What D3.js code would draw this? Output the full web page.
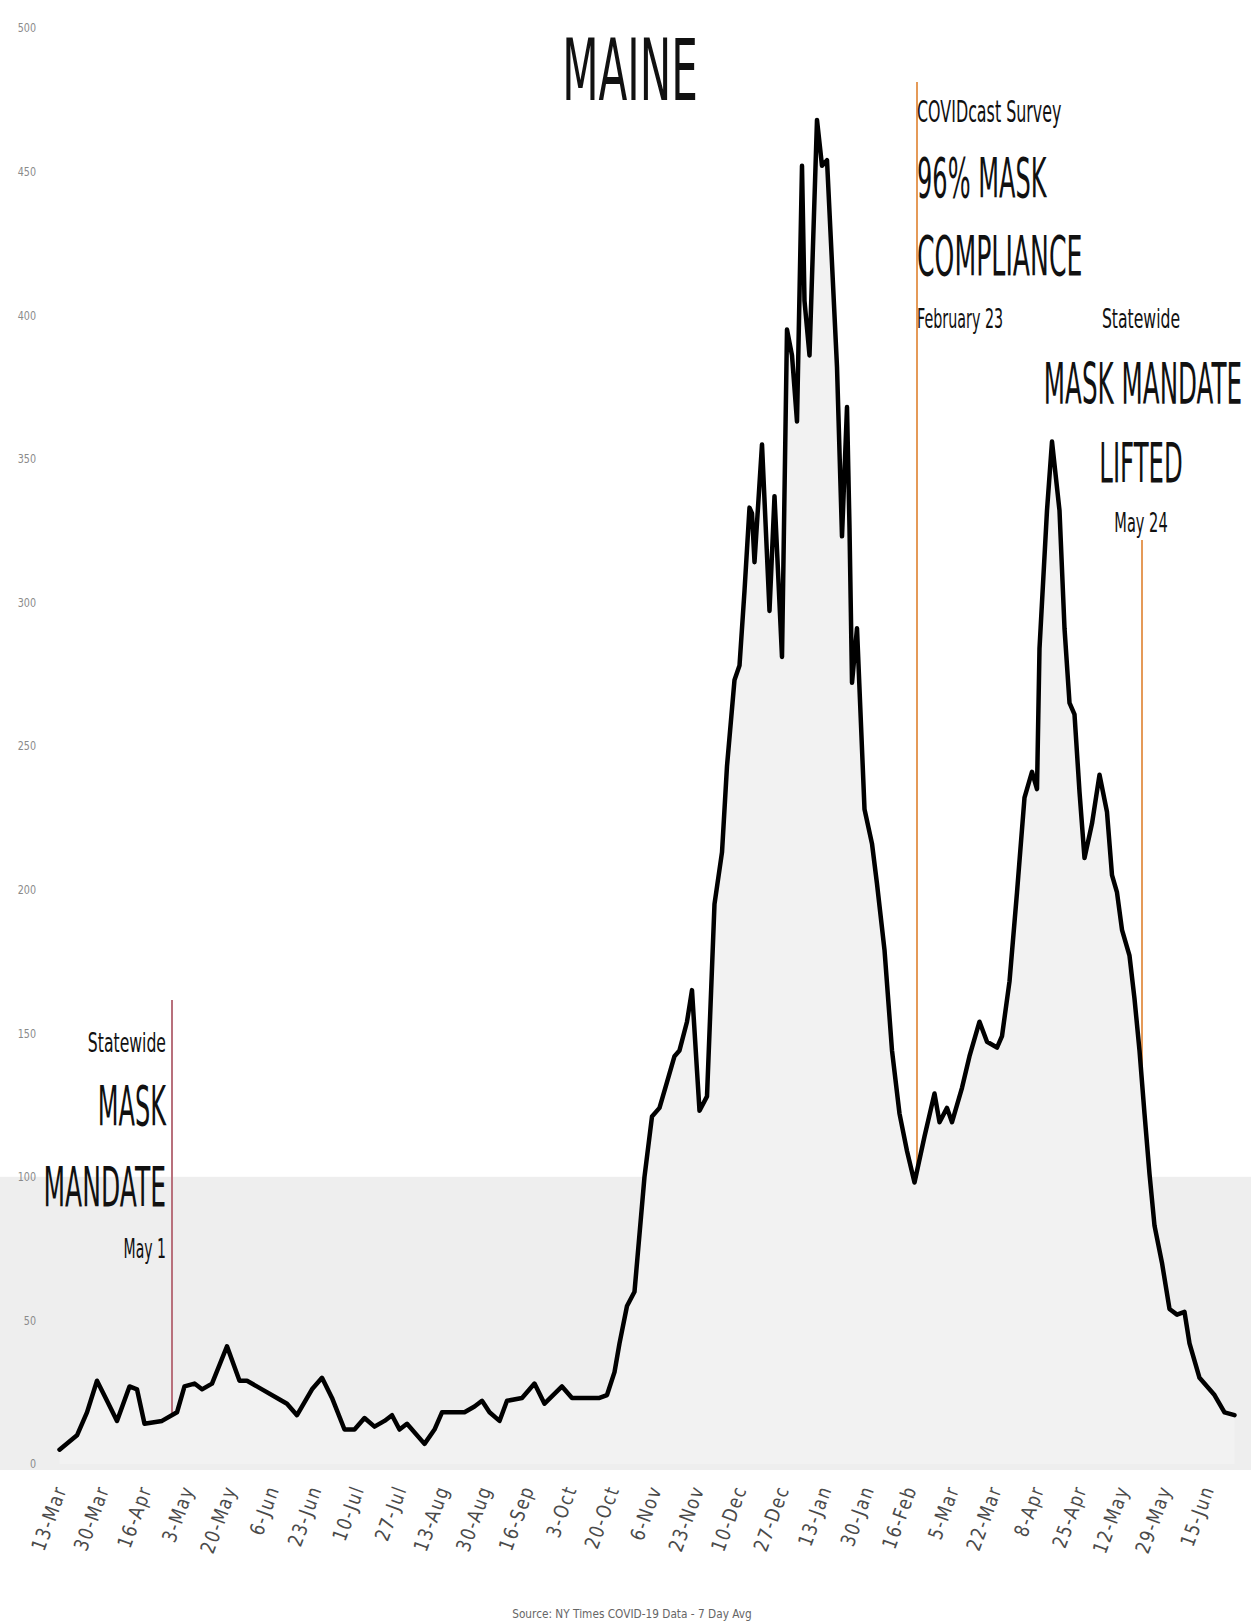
<!DOCTYPE html>
<html>
<head>
<meta charset="utf-8">
<script src="https://cdn.jsdelivr.net/npm/d3@7"></script>
<style>
  html, body { margin: 0; padding: 0; background: #ffffff; }
  svg { display: block; }
  text { font-family: "DejaVu Sans", "Open Sans", sans-serif; }
</style>
</head>
<body>
<script>
// ---- data ----
const dates = ["2020-03-17","2020-03-24","2020-03-28","2020-04-01","2020-04-05","2020-04-09","2020-04-14","2020-04-17","2020-04-20","2020-04-27",
"2020-05-03","2020-05-06","2020-05-10","2020-05-13","2020-05-17","2020-05-23","2020-05-28","2020-05-31","2020-06-06","2020-06-12",
"2020-06-16","2020-06-20","2020-06-26","2020-06-30","2020-07-04","2020-07-09","2020-07-13","2020-07-17","2020-07-21","2020-07-25",
"2020-07-28","2020-07-31","2020-08-03","2020-08-10","2020-08-14","2020-08-17","2020-08-22","2020-08-26","2020-08-30","2020-09-02",
"2020-09-05","2020-09-09","2020-09-12","2020-09-18","2020-09-23","2020-09-27","2020-10-04","2020-10-08","2020-10-14","2020-10-19",
"2020-10-22","2020-10-25","2020-10-27","2020-10-30","2020-11-02","2020-11-06","2020-11-09","2020-11-12","2020-11-15","2020-11-18",
"2020-11-20","2020-11-23","2020-11-25","2020-11-27","2020-11-28","2020-12-01","2020-12-04","2020-12-07","2020-12-09","2020-12-12",
"2020-12-14","2020-12-16","2020-12-18","2020-12-19","2020-12-20","2020-12-23","2020-12-26","2020-12-28","2020-12-31","2021-01-02",
"2021-01-04","2021-01-06","2021-01-08","2021-01-09","2021-01-11","2021-01-14","2021-01-16","2021-01-18","2021-01-22","2021-01-24",
"2021-01-26","2021-01-27","2021-01-28","2021-01-30","2021-02-02","2021-02-05","2021-02-07","2021-02-10","2021-02-13","2021-02-16",
"2021-02-19","2021-02-22","2021-02-26","2021-03-02","2021-03-04","2021-03-07","2021-03-09","2021-03-13","2021-03-16","2021-03-20",
"2021-03-23","2021-03-27","2021-03-29","2021-04-01","2021-04-04","2021-04-07","2021-04-10","2021-04-12","2021-04-13","2021-04-16",
"2021-04-18","2021-04-21","2021-04-23","2021-04-25","2021-04-27","2021-04-29","2021-05-01","2021-05-04","2021-05-07","2021-05-10",
"2021-05-12","2021-05-14","2021-05-16","2021-05-19","2021-05-21","2021-05-23","2021-05-25","2021-05-27","2021-05-29","2021-06-01",
"2021-06-04","2021-06-07","2021-06-10","2021-06-12","2021-06-16","2021-06-22","2021-06-26","2021-06-30"];
const cases = [5,10,18,29,22,15,27,26,14,15,
18,27,28,26,28,41,29,29,26,23,
21,17,26,30,23,12,12,16,13,15,
17,12,14,7,12,18,18,18,20,22,
18,15,22,23,28,21,27,23,23,23,
24,32,42,55,60,100,121,124,133,142,
144,154,165,137,123,128,195,213,243,273,
278,304,333,331,314,355,297,337,281,395,
386,363,452,405,386,468,452,454,382,323,
368,326,272,291,228,216,202,179,144,122,
109,98,114,129,119,124,119,131,142,154,
147,145,149,168,199,232,241,235,284,332,
356,332,291,265,261,234,211,223,240,227,
205,199,186,177,162,144,122,101,83,70,
54,52,53,42,30,24,18,17];

const tickDates = ["2020-03-13","2020-03-30","2020-04-16","2020-05-03","2020-05-20","2020-06-06","2020-06-23","2020-07-10","2020-07-27",
"2020-08-13","2020-08-30","2020-09-16","2020-10-03","2020-10-20","2020-11-06","2020-11-23","2020-12-10","2020-12-27","2021-01-13",
"2021-01-30","2021-02-16","2021-03-05","2021-03-22","2021-04-08","2021-04-25","2021-05-12","2021-05-29","2021-06-15"];
const yTicks = [0,50,100,150,200,250,300,350,400,450,500];

const title = "MAINE";
const sourceText = "Source: NY Times COVID-19 Data - 7 Day Avg";
const events = [
  { date: "2020-05-01", color: "#b8707c", top: 1000 },
  { date: "2021-02-23", color: "#e59a58", top: 82 },
  { date: "2021-05-24", color: "#e59a58", top: 540 }
];

// ---- drawing ----
const W = 1251, H = 1623;
const parse = d3.utcParse("%Y-%m-%d");
const data = dates.map((d, i) => ({ date: parse(d), value: cases[i] }));

const x = d3.scaleUtc().domain([parse("2020-03-13"), parse("2021-07-02")]).range([49.5, 1239.5]);
const y = d3.scaleLinear().domain([0, 500]).range([1464, 28]);

const svg = d3.select("body").append("svg").attr("width", W).attr("height", H);

// light background band and area
svg.append("rect").attr("x", 0).attr("y", y(100)).attr("width", W).attr("height", y(0) - y(100) + 6).attr("fill", "#eeeeee");
svg.append("path").datum(data)
  .attr("d", d3.area().x(d => x(d.date)).y0(y(0)).y1(d => y(d.value)))
  .attr("fill", "#f2f2f2");

// y axis
const yAxis = d3.axisLeft(y).tickValues(yTicks).tickSize(0).tickPadding(0);
const gy = svg.append("g").attr("transform", "translate(36,0)").call(yAxis);
gy.select(".domain").remove();
gy.selectAll("text").attr("font-size", 12).attr("fill", "#8a8a8a")
  .attr("font-family", "DejaVu Sans").attr("transform", "scale(0.8,1)").attr("x", 0);

// x axis
const xAxis = d3.axisBottom(x).tickValues(tickDates.map(parse)).tickFormat(d3.utcFormat("%-d-%b")).tickSize(0).tickPadding(0);
const gx = svg.append("g").attr("transform", `translate(4,${y(0) + 20})`).call(xAxis);
gx.select(".domain").remove();
gx.selectAll("text")
  .attr("font-size", 20)
  .attr("font-family", "DejaVu Sans")
  .attr("letter-spacing", 2)
  .attr("fill", "#4a4a4a")
  .attr("text-anchor", "end")
  .attr("y", 0)
  .attr("dy", "0.7em")
  .attr("transform", "rotate(-70) scale(0.82,1)");

// event lines (end at the curve)
const bis = d3.bisector(d => d.date).left;
function valueAt(dt) {
  const i = bis(data, dt);
  const a = data[i - 1], b = data[i];
  const t = (dt - a.date) / (b.date - a.date);
  return a.value + t * (b.value - a.value);
}
events.forEach(e => {
  const dt = parse(e.date);
  svg.append("line")
    .attr("x1", x(dt)).attr("x2", x(dt))
    .attr("y1", e.top).attr("y2", y(valueAt(dt)))
    .attr("stroke", e.color).attr("stroke-width", 2);
});

// line
svg.append("path").datum(data)
  .attr("d", d3.line().x(d => x(d.date)).y(d => y(d.value)))
  .attr("fill", "none").attr("stroke", "#000").attr("stroke-width", 4.5)
  .attr("stroke-linejoin", "round").attr("stroke-linecap", "round");

// condensed text helper
function txt(s, xx, yy, size, anchor, sx) {
  svg.append("text").attr("transform", `translate(${xx},${yy}) scale(${sx},1)`)
    .attr("text-anchor", anchor).attr("font-size", size).attr("fill", "#111").text(s);
}
txt(title, 630, 100, 86, "middle", 0.49);

txt("COVIDcast Survey", 917, 122, 30, "start", 0.53);
txt("96% MASK", 917, 197, 56, "start", 0.43);
txt("COMPLIANCE", 917, 275, 56, "start", 0.45);
txt("February 23", 917, 328, 27, "start", 0.53);

txt("Statewide", 1141, 328, 27, "middle", 0.58);
txt("MASK MANDATE", 1143, 404, 56, "middle", 0.44);
txt("LIFTED", 1141, 482, 56, "middle", 0.435);
txt("May 24", 1141, 532, 27, "middle", 0.54);

txt("Statewide", 166, 1052, 27, "end", 0.58);
txt("MASK", 166, 1125, 56, "end", 0.43);
txt("MANDATE", 166, 1206, 56, "end", 0.447);
txt("May 1", 166, 1258, 27, "end", 0.52);

// source
svg.append("text").attr("transform", "translate(632,1618) scale(0.88,1)")
  .attr("text-anchor", "middle").attr("font-size", 12).attr("fill", "#666").text(sourceText);
</script>
</body>
</html>
